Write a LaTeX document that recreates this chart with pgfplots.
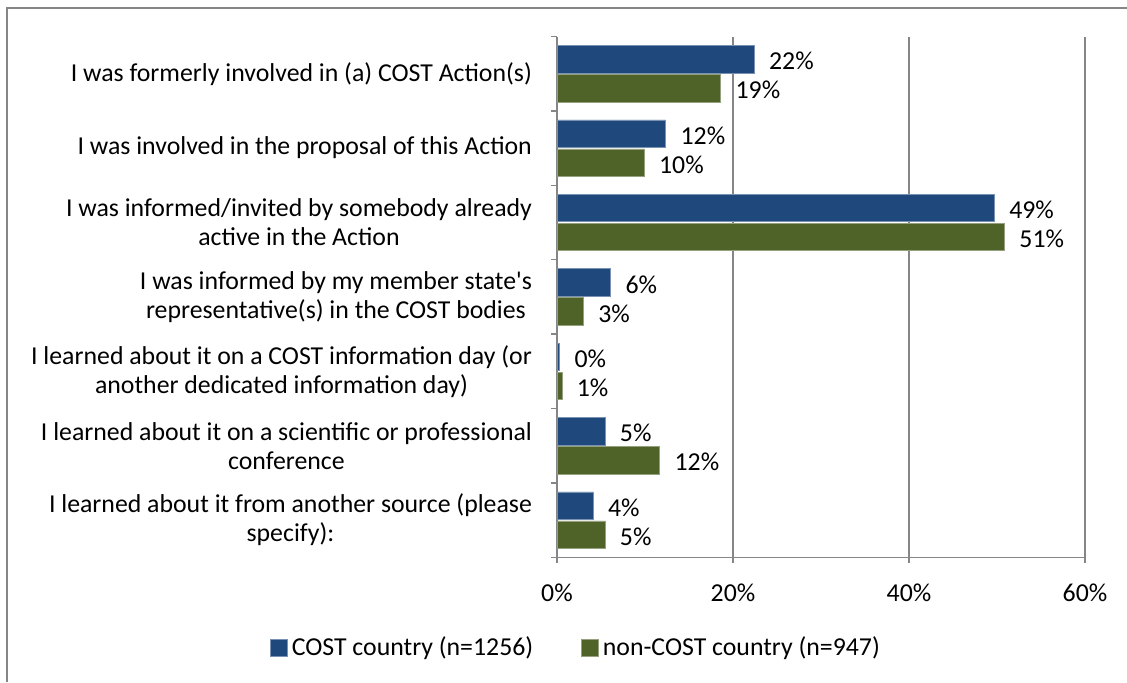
\documentclass[border=0pt]{standalone}
\usepackage{fontspec}
\setmainfont{Carlito}
\usepackage{pgfplots}
\pgfplotsset{compat=1.18}
\definecolor{costblue}{HTML}{1F497D}
\definecolor{costgreen}{HTML}{4F6228}
\definecolor{axgray}{HTML}{868686}

\begin{document}
\begin{tikzpicture}[font=\fontsize{12.9}{14.5}\selectfont]
\useasboundingbox (0,0) rectangle (563.5pt,341pt);
\draw[axgray, line width=1pt] (3.5pt,0) -- (3.5pt,337pt) -- (563.5pt,337pt);
\begin{axis}[
    at={(278.5pt,62.35pt)}, anchor=south west,
    scale only axis, width=264pt, height=260.4pt,
    xbar, bar width=0.37,
    xmin=0, xmax=60, ymin=-0.5, ymax=6.5,
    axis x line*=bottom, axis y line*=left,
    axis line style={axgray, line width=0.75pt},
    xtick={0,20,40,60}, xticklabels={0\%,20\%,40\%,60\%},
    xmajorgrids, grid style={axgray, line width=0.75pt},
    x tick style={axgray, line width=0.75pt},
    xticklabel style={yshift=-7pt},
    ytick={0,...,6},
    yticklabels={
        {I learned about it from another source (please\\specify):},
        {I learned about it on a scientific or professional\\conference},
        {I learned about it on a COST information day (or\\another dedicated information day)},
        {I was informed by my member state\textquotesingle s\\representative(s) in the COST bodies},
        {I was informed/invited by somebody already\\active in the Action},
        {I was involved in the proposal of this Action},
        {I was formerly involved in (a) COST Action(s)}},
    yticklabel style={align=center, xshift=-6pt},
    minor ytick={-0.5,0.5,...,6.5},
    major y tick style={draw=none},
    minor y tick style={axgray, line width=0.75pt},
    tick align=outside, major tick length=3pt, minor tick length=3pt,
    point meta=explicit symbolic,
    nodes near coords={\pgfplotspointmeta\%},
    every node near coord/.append style={anchor=west, xshift=4pt, yshift=-1pt, text=black},
    legend style={at={(0.038,-0.174)}, anchor=center, draw=none, legend columns=2,
        /tikz/every even column/.append style={column sep=22pt}},
    legend image code/.code={\fill[#1] (0pt,-4.25pt) rectangle (8.5pt,4.25pt);},
]
\addplot[fill=costblue, draw=costblue!60!white, line width=0.3pt, bar shift=0.195]
    coordinates {(22.4,6)[22] (12.35,5)[12] (49.7,4)[49] (6.1,3)[6]
                 (0.3,2)[0] (5.45,1)[5] (4.1,0)[4]};
\addlegendentry{COST country (n=1256)}
\addplot[fill=costgreen, draw=costgreen!60!white, line width=0.3pt, bar shift=-0.195]
    coordinates {(18.6,6)[19] (9.9,5)[10] (50.85,4)[51] (3.0,3)[3]
                 (0.55,2)[1] (11.67,1)[12] (5.45,0)[5]};
\addlegendentry{non-COST country (n=947)}
\end{axis}
\end{tikzpicture}
\end{document}
